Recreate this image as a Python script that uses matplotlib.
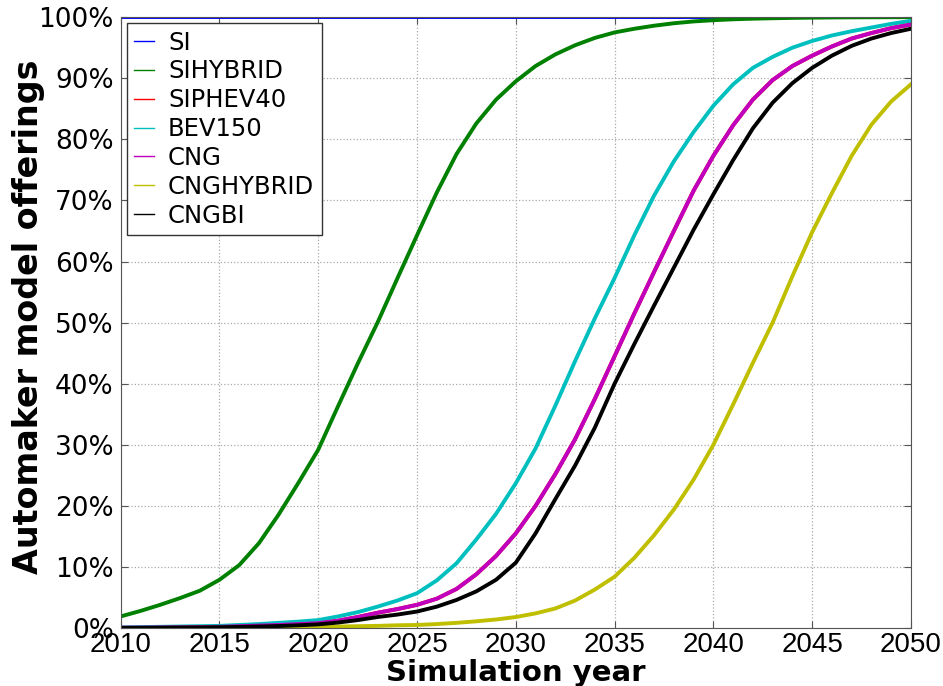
import matplotlib
matplotlib.use('Agg')
from matplotlib import pyplot as plt
from matplotlib.lines import Line2D
from matplotlib.ticker import FuncFormatter, MultipleLocator

years = list(range(2010, 2051))

si = [100.0] * len(years)

sihybrid = [1.9, 2.8, 3.8, 4.9, 6.1, 7.9, 10.3, 13.9, 18.6, 23.8,
            29.2, 36.3, 43.3, 50.0, 57.2, 64.3, 71.3, 77.6, 82.6, 86.5,
            89.5, 92.0, 93.9, 95.4, 96.6, 97.5, 98.1, 98.6, 99.0, 99.3,
            99.5, 99.65, 99.75, 99.82, 99.88, 99.92, 99.95, 99.97, 99.98, 99.99,
            100.0]

bev150 = [0.1, 0.15, 0.2, 0.25, 0.3, 0.35, 0.5, 0.65, 0.85, 1.05,
          1.3, 1.9, 2.6, 3.5, 4.5, 5.7, 7.8, 10.6, 14.5, 18.7,
          23.7, 29.4, 36.4, 43.7, 50.7, 57.3, 64.3, 70.8, 76.4, 81.2,
          85.5, 89.0, 91.7, 93.5, 95.0, 96.1, 97.0, 97.7, 98.3, 98.9,
          99.4]

cng = [0.05, 0.07, 0.1, 0.13, 0.17, 0.2, 0.3, 0.4, 0.5, 0.65,
       0.8, 1.2, 1.8, 2.5, 3.1, 3.8, 4.8, 6.4, 8.8, 11.8,
       15.5, 20.0, 25.2, 30.9, 37.5, 44.5, 51.5, 58.3, 65.0, 71.6,
       77.3, 82.3, 86.5, 89.7, 92.0, 93.7, 95.2, 96.5, 97.4, 98.2,
       98.8]

# SIPHEV40 is never visible in the figure, it sits under the CNG curve
siphev40 = cng

cnghybrid = [0.0, 0.01, 0.02, 0.03, 0.04, 0.05, 0.06, 0.08, 0.1, 0.15,
             0.2, 0.25, 0.3, 0.35, 0.45, 0.5, 0.65, 0.85, 1.1, 1.4,
             1.8, 2.4, 3.2, 4.5, 6.3, 8.4, 11.5, 15.2, 19.4, 24.3,
             30.0, 36.6, 43.4, 50.0, 57.6, 64.8, 71.2, 77.3, 82.4, 86.2,
             89.0]

cngbi = [0.02, 0.03, 0.05, 0.08, 0.1, 0.13, 0.18, 0.25, 0.33, 0.45,
         0.6, 0.9, 1.3, 1.8, 2.2, 2.7, 3.5, 4.6, 6.0, 7.9,
         10.7, 15.5, 21.1, 26.6, 32.8, 40.0, 46.5, 52.8, 59.0, 65.2,
         71.0, 76.6, 81.8, 86.0, 89.2, 91.7, 93.7, 95.3, 96.5, 97.4,
         98.1]

labels = ['SI', 'SIHYBRID', 'SIPHEV40', 'BEV150', 'CNG', 'CNGHYBRID', 'CNGBI']
series = [si, sihybrid, siphev40, bev150, cng, cnghybrid, cngbi]
colours = ['#0000ff', '#008000', '#ff0000', '#00bfbf', '#bf00bf', '#bfbf00', '#000000']

fig = plt.figure(figsize=(9.43, 6.86), dpi=100)
ax = fig.add_axes([0.128, 0.0845, 0.838, 0.8905])

for vals, c in zip(series, colours):
    ax.plot(years, vals, color=c, lw=2.8)

ax.set_xlim(2010, 2050)
ax.set_ylim(0, 100)
ax.xaxis.set_major_locator(MultipleLocator(5))
ax.yaxis.set_major_locator(MultipleLocator(10))
ax.yaxis.set_major_formatter(FuncFormatter(lambda v, p: '%d%%' % v))
ax.grid(True, linestyle=':', color='#aaaaaa', lw=0.9)
ax.tick_params(direction='in', top=True, right=True, length=5, color='#555555')
for lab in ax.get_yticklabels():
    lab.set_fontsize(19)
for lab in ax.get_xticklabels():
    lab.set_family('Liberation Sans')
    lab.set_fontsize(20)
ax.tick_params(axis='y', pad=5)
ax.tick_params(axis='x', pad=3)
for s in ax.spines.values():
    s.set_color('#555555')

ax.set_xlabel('Simulation year', fontsize=21, fontweight='bold')
ax.xaxis.set_label_coords(0.5, -0.05)
ax.set_ylabel('Automaker model offerings', fontsize=24, fontweight='bold')
ax.yaxis.set_label_coords(-0.096, 0.51)

handles = [Line2D([], [], color=c, lw=1) for c in colours]
leg = ax.legend(handles, labels, loc='upper left', fontsize=17.5, fancybox=False,
                handlelength=0.8, handletextpad=0.6, labelspacing=0.2,
                borderaxespad=0.25, borderpad=0.3, framealpha=1)
leg.get_frame().set_edgecolor('#333333')
leg.get_frame().set_linewidth(1.0)

fig.savefig('out.png', dpi=100)
